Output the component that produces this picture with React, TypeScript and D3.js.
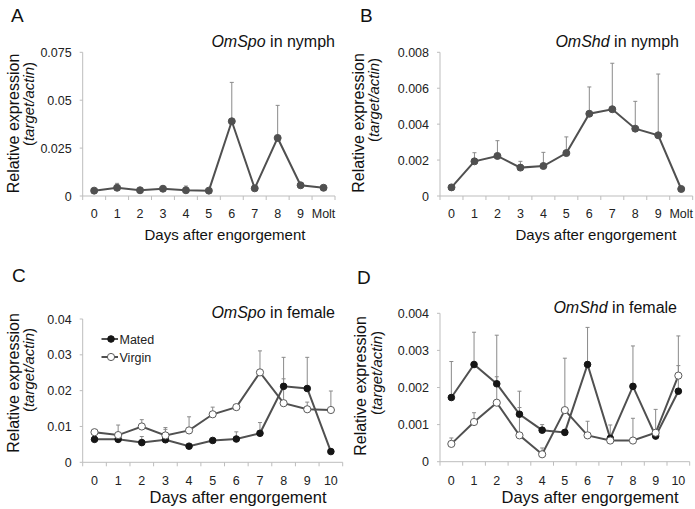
import React from "react";
import * as d3 from "d3";

const nymphDays = ["0", "1", "2", "3", "4", "5", "6", "7", "8", "9", "Molt"];
const femaleDays = ["0", "1", "2", "3", "4", "5", "6", "7", "8", "9", "10"];

const spoNymph = [0.0028, 0.0043, 0.003, 0.0038, 0.003, 0.0028, 0.039, 0.004, 0.0303, 0.0056, 0.0043];
const spoNymphErr = [null, 0.0066, null, null, 0.0052, null, 0.0593, null, 0.0473, null, null];

const shdNymph = [0.00048, 0.00193, 0.00223, 0.00158, 0.00167, 0.00239, 0.00458, 0.00483, 0.00375, 0.00338, 0.00039];
const shdNymphErr = [null, 0.00241, 0.00308, 0.00193, 0.00243, 0.00329, 0.00607, 0.00739, 0.00527, 0.00679, null];

const spoMated = [0.0064, 0.0064, 0.0055, 0.0063, 0.0045, 0.0061, 0.0065, 0.0081, 0.0212, 0.0206, 0.003];
const spoMatedErr = [null, null, 0.0072, 0.0092, null, null, 0.0085, 0.0111, 0.0293, 0.0293, null];
const spoVirgin = [0.0084, 0.0076, 0.01, 0.0075, 0.0089, 0.0134, 0.0154, 0.0251, 0.0165, 0.0148, 0.0146];
const spoVirginErr = [null, 0.0104, 0.0119, 0.0097, 0.0127, 0.0154, null, 0.0311, 0.0233, 0.0168, 0.0199];

const shdMated = [0.00173, 0.00262, 0.0021, 0.00128, 0.00085, 0.00079, 0.00262, 0.00063, 0.00203, 0.00069, 0.0019];
const shdMatedErr = [0.0027, 0.00349, 0.00341, 0.0019, 0.001, null, 0.00362, 0.00099, 0.00312, null, 0.00339];
const shdVirgin = [0.00048, 0.00107, 0.00159, 0.00071, 0.0002, 0.00139, 0.00071, 0.00057, 0.00057, 0.00078, 0.00232];
const shdVirginErr = [0.00064, 0.00132, 0.00229, 0.00146, 0.00037, 0.00279, 0.00109, null, 0.00117, 0.00141, 0.00259];

const ticksA = [0, 0.025, 0.05, 0.075];
const tickLabelsA = ["0", "0.025", "0.05", "0.075"];
const ticksB = [0, 0.002, 0.004, 0.006, 0.008];
const tickLabelsB = ["0", "0.002", "0.004", "0.006", "0.008"];
const ticksC = [0, 0.01, 0.02, 0.03, 0.04];
const tickLabelsC = ["0", "0.01", "0.02", "0.03", "0.04"];
const ticksD = [0, 0.001, 0.002, 0.003, 0.004];
const tickLabelsD = ["0", "0.001", "0.002", "0.003", "0.004"];

const seriesLabels = ["Mated", "Virgin"];

const FONT = "'Liberation Sans', Arial, sans-serif";
const AXIS = "#bdbdbd";
const LINE = "#505050";
const ERR = "#8a8a8a";

type Series = { values: number[]; errs: (number | null)[]; fill: string; stroke: string; r: number };

type PanelProps = {
  letter: string;
  letterX: number;
  letterY: number;
  gene: string;
  stage: string;
  titleX: number;
  titleY: number;
  cats: string[];
  x0: number;
  x1: number;
  yBottom: number;
  yTop: number;
  yMax: number;
  ticks: number[];
  tickLabels: string[];
  series: Series[];
  ylab1: [number, number];
  ylab2: [number, number];
  xlabX: number;
  xlabY: number;
  xlabSize: number;
  tickLabY: number;
  legend?: boolean;
};

function Panel(p: PanelProps) {
  const x = d3.scaleBand<string>().domain(p.cats).range([p.x0, p.x1]).padding(0);
  const y = d3.scaleLinear().domain([0, p.yMax]).range([p.yBottom, p.yTop]);
  const bw = x.bandwidth();
  const cx = (c: string) => (x(c) as number) + bw / 2;
  const line = d3
    .line<number>()
    .x((_, i) => cx(p.cats[i]))
    .y((v) => y(v));
  const boundaries = p.cats.map((c) => x(c) as number).concat([p.x1]);
  return (
    <g fontFamily={FONT}>
      <text x={p.letterX} y={p.letterY} fontSize={19} fill="#111">
        {p.letter}
      </text>
      <text x={p.titleX} y={p.titleY} fontSize={16} textAnchor="end" fill="#111">
        <tspan fontStyle="italic">{p.gene}</tspan>
        <tspan>{" in " + p.stage}</tspan>
      </text>
      <line x1={p.x0} x2={p.x0} y1={p.yTop} y2={p.yBottom} stroke={AXIS} />
      <line x1={p.x0} x2={p.x1} y1={p.yBottom} y2={p.yBottom} stroke={AXIS} />
      {p.ticks.map((t, i) => (
        <g key={"yt" + i}>
          <line x1={p.x0 - 3} x2={p.x0} y1={y(t)} y2={y(t)} stroke={AXIS} />
          <text x={p.x0 - 11} y={y(t) + 4.5} fontSize={12.5} textAnchor="end" fill="#222">
            {p.tickLabels[i]}
          </text>
        </g>
      ))}
      {boundaries.map((b, i) => (
        <line key={"xt" + i} x1={b} x2={b} y1={p.yBottom} y2={p.yBottom + 4} stroke={AXIS} />
      ))}
      {p.cats.map((c) => (
        <text key={"xl" + c} x={cx(c)} y={p.tickLabY} fontSize={12.5} textAnchor="middle" fill="#222">
          {c}
        </text>
      ))}
      <text x={p.xlabX} y={p.xlabY} fontSize={p.xlabSize} textAnchor="middle" fill="#111">
        Days after engorgement
      </text>
      <text
        transform={`translate(${p.ylab1[0]},${p.ylab1[1]}) rotate(-90)`}
        fontSize={16}
        textAnchor="middle"
        fill="#111"
      >
        Relative expression
      </text>
      <text
        transform={`translate(${p.ylab2[0]},${p.ylab2[1]}) rotate(-90)`}
        fontSize={15}
        textAnchor="middle"
        fill="#111"
      >
        <tspan>(</tspan>
        <tspan fontStyle="italic">target/actin</tspan>
        <tspan>)</tspan>
      </text>
      {p.series.map((s, si) =>
        s.errs.map((e, i) =>
          e == null ? null : (
            <g key={`e${si}-${i}`} stroke={ERR} strokeWidth={1}>
              <line x1={cx(p.cats[i])} x2={cx(p.cats[i])} y1={y(s.values[i])} y2={y(e)} />
              <line x1={cx(p.cats[i]) - 2} x2={cx(p.cats[i]) + 2} y1={y(e)} y2={y(e)} />
            </g>
          )
        )
      )}
      {p.series.map((s, si) => (
        <path key={"l" + si} d={line(s.values) || ""} fill="none" stroke={LINE} strokeWidth={2} />
      ))}
      {p.series.map((s, si) =>
        s.values.map((v, i) => (
          <circle
            key={`c${si}-${i}`}
            cx={cx(p.cats[i])}
            cy={y(v)}
            r={s.r}
            fill={s.fill}
            stroke={s.stroke}
            strokeWidth={1}
          />
        ))
      )}
      {p.legend &&
        p.series.map((s, si) => {
          const ly = 339 + si * 18;
          return (
            <g key={"lg" + si}>
              <line x1={101.5} x2={118} y1={ly} y2={ly} stroke={LINE} strokeWidth={2} />
              <circle cx={111} cy={ly} r={s.r} fill={s.fill} stroke={s.stroke} strokeWidth={1} />
              <text x={119.5} y={ly + 4.5} fontSize={12.5} fill="#222">
                {seriesLabels[si]}
              </text>
            </g>
          );
        })}
    </g>
  );
}

export default function App() {
  return (
    <svg
      width={695}
      height={509}
      style={{ position: "absolute", left: 0, top: 0, background: "#fff" }}
    >
      <rect width={695} height={509} fill="#fff" />
      <Panel
        letter="A"
        letterX={11}
        letterY={22}
        gene="OmSpo"
        stage="nymph"
        titleX={335}
        titleY={47}
        cats={nymphDays}
        x0={82.7}
        x1={335}
        yBottom={196}
        yTop={52.3}
        yMax={0.075}
        ticks={ticksA}
        tickLabels={tickLabelsA}
        series={[{ values: spoNymph, errs: spoNymphErr, fill: LINE, stroke: LINE, r: 3.5 }]}
        ylab1={[19, 123.5]}
        ylab2={[34, 104]}
        xlabX={225}
        xlabY={240}
        xlabSize={15}
        tickLabY={218}
      />
      <Panel
        letter="B"
        letterX={360}
        letterY={22}
        gene="OmShd"
        stage="nymph"
        titleX={679}
        titleY={47}
        cats={nymphDays}
        x0={440}
        x1={692.7}
        yBottom={196}
        yTop={52.3}
        yMax={0.008}
        ticks={ticksB}
        tickLabels={tickLabelsB}
        series={[{ values: shdNymph, errs: shdNymphErr, fill: LINE, stroke: LINE, r: 3.5 }]}
        ylab1={[364, 123]}
        ylab2={[379, 100]}
        xlabX={596}
        xlabY={240}
        xlabSize={15}
        tickLabY={218}
      />
      <Panel
        letter="C"
        letterX={12}
        letterY={282}
        gene="OmSpo"
        stage="female"
        titleX={335}
        titleY={318}
        cats={femaleDays}
        x0={82.7}
        x1={342.7}
        yBottom={462.3}
        yTop={319}
        yMax={0.04}
        ticks={ticksC}
        tickLabels={tickLabelsC}
        series={[
          { values: spoMated, errs: spoMatedErr, fill: "#151515", stroke: "#151515", r: 3.3 },
          { values: spoVirgin, errs: spoVirginErr, fill: "#ffffff", stroke: "#5a5a5a", r: 3.6 },
        ]}
        ylab1={[19, 383]}
        ylab2={[34, 370]}
        xlabX={238}
        xlabY={503}
        xlabSize={16.5}
        tickLabY={485}
        legend
      />
      <Panel
        letter="D"
        letterX={357}
        letterY={284}
        gene="OmShd"
        stage="female"
        titleX={677}
        titleY={313}
        cats={femaleDays}
        x0={440}
        x1={689.7}
        yBottom={461.7}
        yTop={313.3}
        yMax={0.004}
        ticks={ticksD}
        tickLabels={tickLabelsD}
        series={[
          { values: shdMated, errs: shdMatedErr, fill: "#151515", stroke: "#151515", r: 3.3 },
          { values: shdVirgin, errs: shdVirginErr, fill: "#ffffff", stroke: "#5a5a5a", r: 3.6 },
        ]}
        ylab1={[366, 386]}
        ylab2={[382, 373]}
        xlabX={590}
        xlabY={503}
        xlabSize={16.5}
        tickLabY={485}
      />
    </svg>
  );
}
